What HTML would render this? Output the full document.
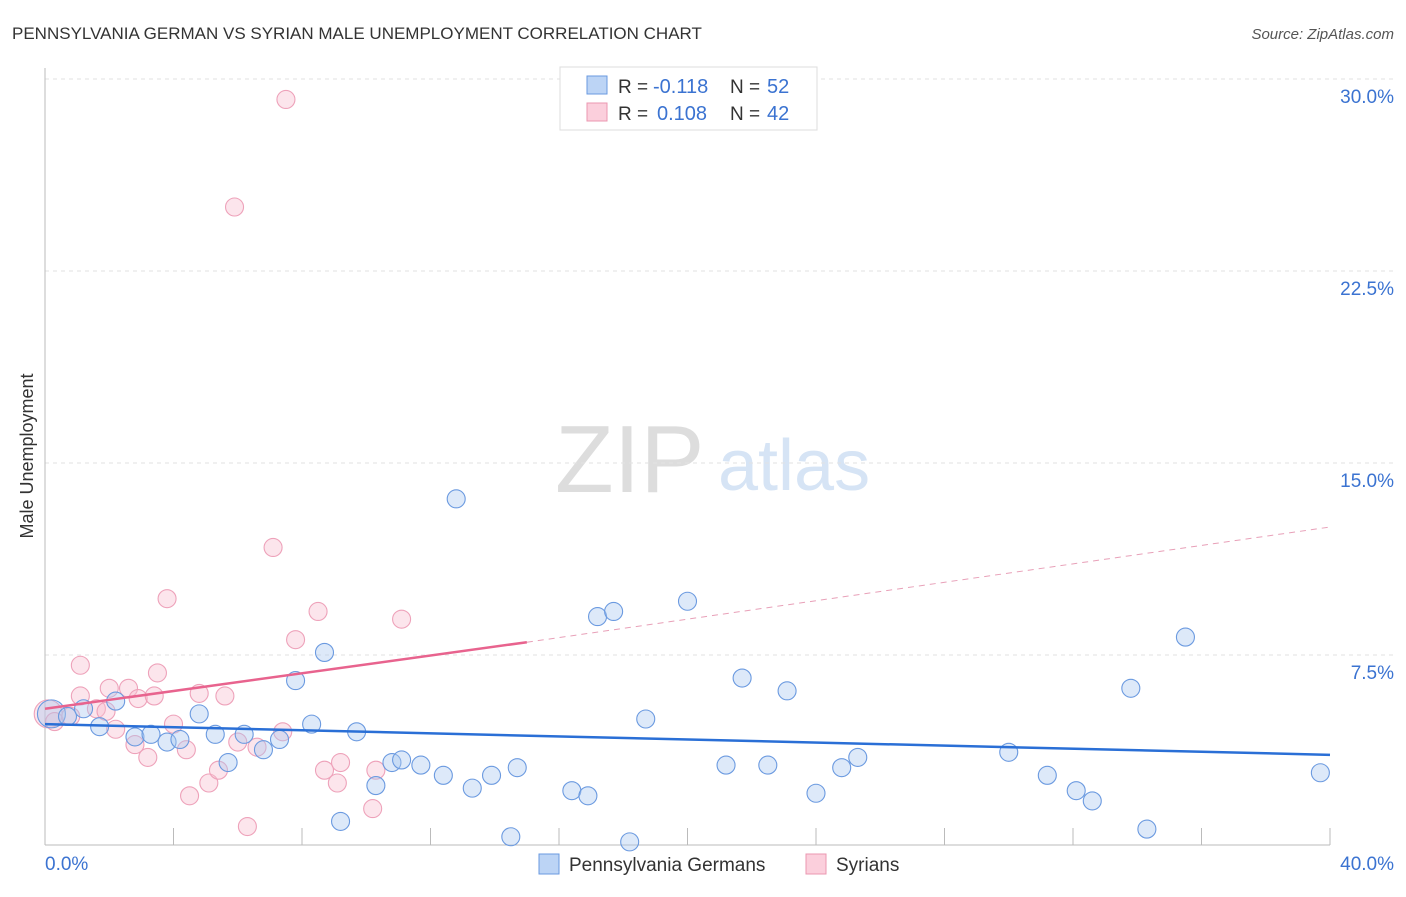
<!DOCTYPE html>
<html><head><meta charset="utf-8"><style>
body{margin:0;background:#fff;font-family:"Liberation Sans",sans-serif}
svg text{font-family:"Liberation Sans",sans-serif}
</style></head><body>
<svg width="1406" height="892" xmlns="http://www.w3.org/2000/svg">
<text x="12" y="39" font-size="17" fill="#333">PENNSYLVANIA GERMAN VS SYRIAN MALE UNEMPLOYMENT CORRELATION CHART</text>
<text x="1394" y="39" font-size="15" fill="#555" text-anchor="end" font-style="italic">Source: ZipAtlas.com</text>
<text x="555" y="492" font-size="96" fill="#ddd" font-family="Liberation Serif">ZIP</text>
<text x="718" y="490" font-size="72" fill="#d6e4f5">atlas</text>
<g id="grid"></g>
<line x1="45" y1="68" x2="45" y2="845" stroke="#bbb"/>
<line x1="45" y1="845" x2="1330" y2="845" stroke="#bbb"/>
<text x="33" y="456" font-size="18" fill="#333" transform="rotate(-90 33 456)" text-anchor="middle">Male Unemployment</text>
<text x="45" y="870" font-size="19" fill="#3b73d1">0.0%</text>
<text x="1394" y="870" font-size="19" fill="#3b73d1" text-anchor="end">40.0%</text>
<g id="pts"></g>
<g id="lines"></g>
<g>
<rect x="560" y="67" width="257" height="63" fill="#fff" stroke="#ddd"/>
<rect x="587" y="76" width="20" height="18" fill="#bcd4f5" stroke="#6a9ae0"/>
<rect x="587" y="103" width="20" height="18" fill="#fbcfdc" stroke="#eb97b0"/>
<text x="618" y="93" font-size="19" fill="#333">R =</text>
<text x="653" y="93" font-size="20" fill="#3b73d1">-0.118</text>
<text x="730" y="93" font-size="19" fill="#333">N =</text>
<text x="767" y="93" font-size="20" fill="#3b73d1">52</text>
<text x="618" y="120" font-size="19" fill="#333">R =</text>
<text x="657" y="120" font-size="20" fill="#3b73d1">0.108</text>
<text x="730" y="120" font-size="19" fill="#333">N =</text>
<text x="767" y="120" font-size="20" fill="#3b73d1">42</text>
</g>
<g>
<rect x="539" y="854" width="20" height="20" fill="#bcd4f5" stroke="#6a9ae0"/>
<text x="569" y="871" font-size="19" fill="#333">Pennsylvania Germans</text>
<rect x="806" y="854" width="20" height="20" fill="#fbcfdc" stroke="#eb97b0"/>
<text x="836" y="871" font-size="19" fill="#333">Syrians</text>
</g>
</svg>
<script>
const yTicks=[7.5,15,22.5,30];
const xTicks=[0,4,8,12,16,20,24,28,32,36,40];
const blueX=[0.2,0.7,1.2,1.7,2.2,2.8,3.3,3.8,4.2,4.8,5.3,5.7,6.2,6.8,7.3,7.8,8.3,8.7,9.2,9.7,10.3,10.8,11.1,11.7,12.4,12.8,13.3,13.9,14.5,14.7,16.4,16.9,17.2,17.7,18.2,18.7,20.0,21.2,21.7,22.5,23.1,24.0,24.8,25.3,30.0,31.2,32.1,32.6,33.8,34.3,35.5,39.7];
const blueY=[5.2,5.1,5.4,4.7,5.7,4.3,4.4,4.1,4.2,5.2,4.4,3.3,4.4,3.8,4.2,6.5,4.8,7.6,1.0,4.5,2.4,3.3,3.4,3.2,2.8,13.6,2.3,2.8,0.4,3.1,2.2,2.0,9.0,9.2,0.2,5.0,9.6,3.2,6.6,3.2,6.1,2.1,3.1,3.5,3.7,2.8,2.2,1.8,6.2,0.7,8.2,2.9];
const pinkX=[0.1,0.3,0.8,1.1,1.1,1.6,1.9,2.0,2.2,2.6,2.8,2.9,3.2,3.4,3.5,3.8,4.0,4.4,4.5,4.8,5.1,5.4,5.6,5.9,6.0,6.3,6.6,7.1,7.4,7.5,7.8,8.5,8.7,9.1,9.2,10.2,10.3,11.1];
const pinkY=[5.2,4.9,5.1,7.1,5.9,5.4,5.3,6.2,4.6,6.2,4.0,5.8,3.5,5.9,6.8,9.7,4.8,3.8,2.0,6.0,2.5,3.0,5.9,25.0,4.1,0.8,3.9,11.7,4.5,29.2,8.1,9.2,3.0,2.5,3.3,1.5,3.0,8.9];
const blueTrend=[0,4.8,40,3.6];
const pinkTrend=[0,5.4,15,8.0,40,12.5];
const X=v=>45+v/40*1285, Y=v=>847-v/30*768;
const NS='http://www.w3.org/2000/svg';
function mk(t,a,p){const e=document.createElementNS(NS,t);for(const k in a)e.setAttribute(k,a[k]);p.appendChild(e);return e;}
const grid=document.getElementById('grid');
yTicks.forEach(v=>{
const l=mk('line',{x1:45,x2:1395,y1:Y(v),y2:Y(v),stroke:'#e2e2e2','stroke-dasharray':'4,4'},grid);


const t=mk('text',{x:1394,y:Y(v)+24,'font-size':19,fill:'#3b73d1','text-anchor':'end'},grid);t.textContent=v.toFixed(1)+'%';


});
xTicks.forEach(v=>{
const l=mk('line',{x1:X(v),x2:X(v),y1:828,y2:845,stroke:'#bbb'},grid);


});
const pts=document.getElementById('pts');
pinkX.forEach((x,i)=>{
const c=mk('circle',{cx:X(x),cy:Y(pinkY[i]),r:i==0?14:9,fill:'rgba(248,190,208,0.4)',stroke:'#eea2ba','stroke-width':1.1},pts);


});
blueX.forEach((x,i)=>{
const c=mk('circle',{cx:X(x),cy:Y(blueY[i]),r:i==0?14:9,fill:'rgba(170,200,240,0.4)',stroke:'#6b9ae0','stroke-width':1.1},pts);


});
const ln=document.getElementById('lines');
let b=mk('line',{x1:X(blueTrend[0]),y1:Y(blueTrend[1]),x2:X(blueTrend[2]),y2:Y(blueTrend[3]),stroke:'#2a6fd6','stroke-width':2.5},ln);


let p1=mk('line',{x1:X(pinkTrend[0]),y1:Y(pinkTrend[1]),x2:X(pinkTrend[2]),y2:Y(pinkTrend[3]),stroke:'#e8638e','stroke-width':2.5},ln);


let p2=mk('line',{x1:X(pinkTrend[2]),y1:Y(pinkTrend[3]),x2:X(pinkTrend[4]),y2:Y(pinkTrend[5]),stroke:'#e8a0b8','stroke-width':1,'stroke-dasharray':'6,5'},ln);


</script>
</body></html>
